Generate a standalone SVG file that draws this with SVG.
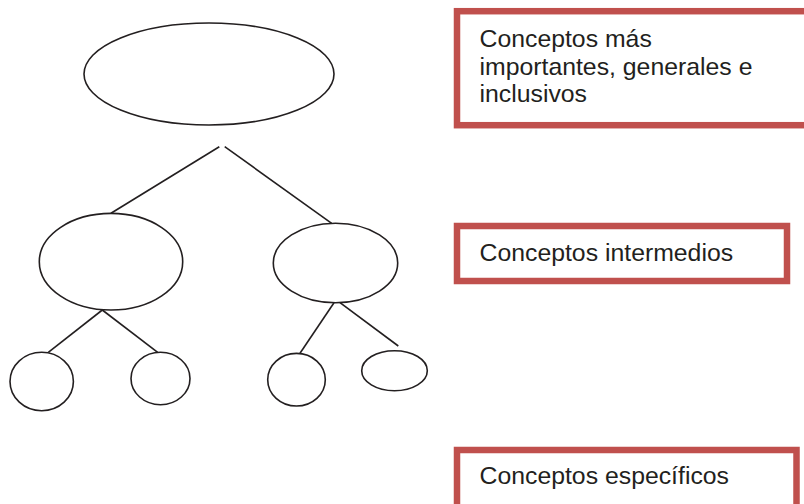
<svg xmlns="http://www.w3.org/2000/svg" width="804" height="504" viewBox="0 0 804 504">
<style>
.n{fill:#fff;stroke:#231f20;stroke-width:1.6}
.c line{stroke:#231f20;stroke-width:1.6}
.b{fill:#fff;stroke:#c0504d;stroke-width:6.5}
.t{font-family:"Liberation Sans",Arial,sans-serif;font-size:24.8px;fill:#231f20}
</style>
<rect width="804" height="504" fill="#fff"/>
<g class="c">
<line x1="219.3" y1="146.7" x2="111" y2="213.3"/>
<line x1="224.7" y1="146.7" x2="331.7" y2="223.3"/>
<line x1="102.3" y1="310" x2="48.3" y2="352.3"/>
<line x1="102.3" y1="310" x2="157.7" y2="352.3"/>
<line x1="334" y1="302.7" x2="300" y2="353.3"/>
<line x1="340" y1="302.7" x2="398.3" y2="346"/>
</g>
<g id="top"><ellipse class="n" cx="209" cy="74" rx="125" ry="51"/></g>
<g id="midL"><ellipse class="n" cx="111" cy="261.7" rx="71.7" ry="48.3"/></g>
<g id="midR"><ellipse class="n" cx="335.5" cy="263" rx="62.2" ry="39.7"/></g>
<g id="leaf1"><ellipse class="n" cx="41.7" cy="381.5" rx="31.7" ry="29.2"/></g>
<g id="leaf2"><ellipse class="n" cx="160.5" cy="378.5" rx="29.5" ry="26.2"/></g>
<g id="leaf3"><ellipse class="n" cx="296.5" cy="379.7" rx="28.8" ry="26.3"/></g>
<g id="leaf4"><ellipse class="n" cx="394.5" cy="370.7" rx="32.8" ry="20"/></g>
<g id="label1">
<rect class="b" x="457" y="11.2" width="360" height="114"/>
<text class="t" x="479.5" y="47.3">Conceptos más</text>
<text class="t" x="479.5" y="74.5">importantes, generales e</text>
<text class="t" x="479.5" y="101.7">inclusivos</text>
</g>
<g id="label2">
<rect class="b" x="457" y="226" width="330" height="55"/>
<text class="t" x="479.5" y="260.7">Conceptos intermedios</text>
</g>
<g id="label3">
<rect class="b" x="457" y="450" width="339.5" height="80"/>
<text class="t" x="479.5" y="484">Conceptos específicos</text>
</g>
</svg>
